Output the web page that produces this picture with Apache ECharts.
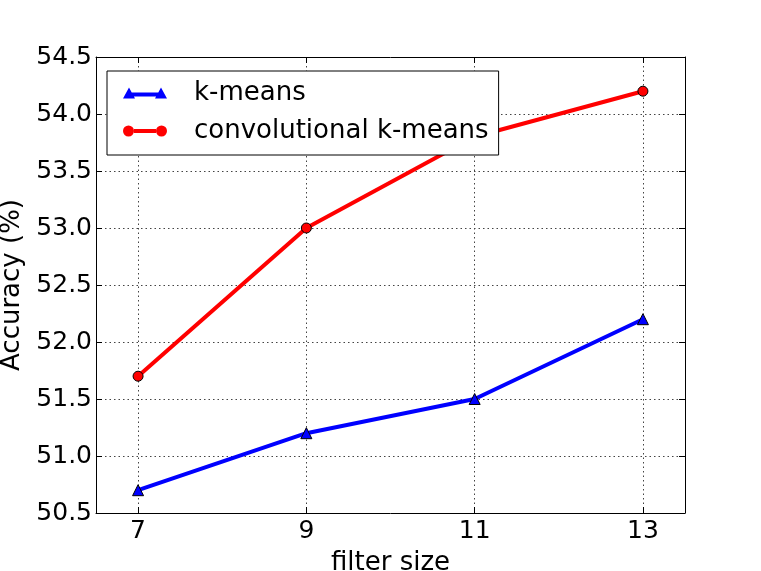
<!DOCTYPE html>
<html>
<head>
<meta charset="utf-8">
<script src="https://cdn.jsdelivr.net/npm/echarts@6/dist/echarts.min.js"></script>
<style>
html, body { margin: 0; padding: 0; background: #fff; }
#main { width: 761px; height: 571px; }
</style>
</head>
<body>
<div id="main"></div>
<script>
// data
var filterSizes = [7, 9, 11, 13];
var kmeans = [50.7, 51.2, 51.5, 52.2];
var convKmeans = [51.7, 53.0, 53.8, 54.2];
var xTicks = [7, 9, 11, 13];

var font = 'DejaVu Sans';
var fs = 25;

function pairs(xs, ys) {
    var out = [];
    for (var i = 0; i < xs.length; i++) out.push([xs[i], ys[i]]);
    return out;
}

// legend samples like matplotlib: a marker at each end of the line
var triIcon = 'path://M0,12L6,1L12,12ZM32,12L38,1L44,12ZM6,6L38,6L38,10L6,10Z';
var dotIcon = 'path://M0,6.5A5.5,5.5,0,1,0,11,6.5A5.5,5.5,0,1,0,0,6.5ZM33,6.5A5.5,5.5,0,1,0,44,6.5A5.5,5.5,0,1,0,33,6.5ZM11,4.5L33,4.5L33,8.5L11,8.5Z';

var tickIn = { show: true, inside: true, length: 6, lineStyle: { color: '#000', width: 1 } };
var dotted = { show: true, lineStyle: { type: [1.5, 3], color: '#444', width: 1 } };

var option = {
    animation: false,
    backgroundColor: '#fff',
    textStyle: { fontFamily: font },
    grid: { left: 96, right: 76, top: 57, bottom: 58, outerBoundsMode: 'none', containLabel: false },
    legend: {
        orient: 'vertical',
        left: 107,
        top: 71,
        padding: [9, 10, 11, 16],
        itemGap: 12,
        itemWidth: 44,
        itemHeight: 13,
        backgroundColor: '#fff',
        borderColor: '#000',
        borderWidth: 1,
        z: 10,
        itemStyle: { borderWidth: 0 },
        textStyle: { fontFamily: font, fontSize: 26, color: '#000', padding: [0, 0, 0, 22] },
        data: [
            { name: 'k-means', icon: triIcon },
            { name: 'convolutional k-means', icon: dotIcon }
        ]
    },
    xAxis: [{
        type: 'value',
        min: 6.5,
        max: 13.5,
        name: 'filter size',
        nameLocation: 'middle',
        nameGap: 37,
        nameTextStyle: { fontSize: 26, color: '#000' },
        axisLine: { show: true, lineStyle: { color: '#000', width: 1 } },
        axisTick: Object.assign({ customValues: xTicks }, tickIn),
        axisLabel: { customValues: xTicks, fontSize: fs, color: '#000', margin: 6 },
        splitLine: dotted
    }, {
        type: 'value',
        position: 'top',
        min: 6.5,
        max: 13.5,
        axisLine: { show: true, lineStyle: { color: '#000', width: 1 } },
        axisTick: Object.assign({ customValues: xTicks }, tickIn),
        axisLabel: { show: false, customValues: xTicks },
        splitLine: { show: false }
    }],
    yAxis: [{
        type: 'value',
        min: 50.5,
        max: 54.5,
        interval: 0.5,
        name: 'Accuracy (%)',
        nameLocation: 'middle',
        nameGap: 61,
        nameTextStyle: { fontSize: 26, color: '#000' },
        axisLine: { show: true, lineStyle: { color: '#000', width: 1 } },
        axisTick: tickIn,
        axisLabel: { fontSize: fs, color: '#000', margin: 4, formatter: function (v) { return v.toFixed(1); } },
        splitLine: dotted
    }, {
        type: 'value',
        position: 'right',
        min: 50.5,
        max: 54.5,
        interval: 0.5,
        axisLine: { show: true, lineStyle: { color: '#000', width: 1 } },
        axisTick: tickIn,
        axisLabel: { show: false },
        splitLine: { show: false }
    }],
    series: [{
        name: 'k-means',
        type: 'line',
        data: pairs(filterSizes, kmeans),
        symbol: 'triangle',
        symbolSize: 11,
        lineStyle: { color: '#0000ff', width: 4 },
        itemStyle: { color: '#0000ff', borderColor: '#000', borderWidth: 1 }
    }, {
        name: 'convolutional k-means',
        type: 'line',
        data: pairs(filterSizes, convKmeans),
        symbol: 'circle',
        symbolSize: 10,
        lineStyle: { color: '#ff0000', width: 4 },
        itemStyle: { color: '#ff0000', borderColor: '#000', borderWidth: 1 }
    }]
};

var myChart = echarts.init(document.getElementById('main'));
myChart.setOption(option);
</script>
</body>
</html>
